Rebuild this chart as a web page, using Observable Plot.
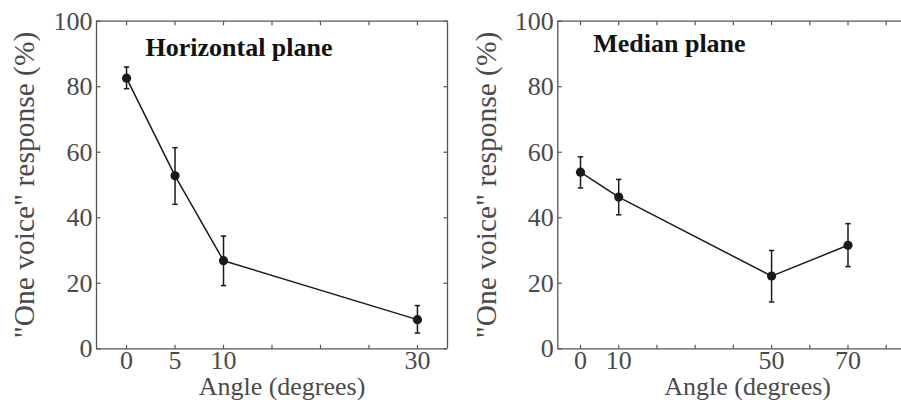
<!DOCTYPE html>
<html>
<head>
<meta charset="utf-8">
<script src="https://cdn.jsdelivr.net/npm/d3@7"></script>
<script src="https://cdn.jsdelivr.net/npm/@observablehq/plot@0.6"></script>
<style>
  body { margin: 0; background: #fff; }
  #wrap { display: flex; width: 901px; height: 400px; overflow: hidden; }
  svg { font-family: "Liberation Serif", "Times New Roman", serif; }
</style>
</head>
<body>
<div id="wrap"></div>
<script>
// ---- data ----
const hAngles = [0, 5, 10, 30];
const hValues = [82.6, 52.8, 26.9, 8.9];
const hLow    = [79.4, 44.1, 19.3, 4.8];
const hHigh   = [86.0, 61.4, 34.4, 13.2];

const mAngles = [0, 10, 50, 70];
const mValues = [53.9, 46.3, 22.2, 31.6];
const mLow    = [49.1, 40.9, 14.3, 25.1];
const mHigh   = [58.6, 51.7, 30.0, 38.2];

const yTicks = [0, 20, 40, 60, 80, 100];
const hXTicks = [0, 5, 10, 15, 20, 25, 30];
const hXLabels = [0, 5, 10, 30];
const mXTicks = [0, 10, 20, 30, 40, 50, 60, 70, 80];
const mXLabels = [0, 10, 50, 70];

const yLabel = '"One voice" response (%)';
const xLabel = "Angle (degrees)";

// ---- styles ----
const grey = "#4a4a4a";
const frameColor = "#555";
const ink = "#1a1a1a";
const T = 4; // inward tick length

const sym = (fn) => ({draw(ctx) { fn(ctx); }});
const tickUp = sym(c => { c.moveTo(0, 0); c.lineTo(0, -T); });
const tickDown = sym(c => { c.moveTo(0, 0); c.lineTo(0, T); });
const tickRight = sym(c => { c.moveTo(0, 0); c.lineTo(T, 0); });
const tickLeft = sym(c => { c.moveTo(0, 0); c.lineTo(-T, 0); });
const cap = sym(c => { c.moveTo(-2.7, 0); c.lineTo(2.7, 0); });

function panel({angles, values, low, high, xTicks, xLabels, domain, width, marginLeft, marginRight, title, titleDx, titleDy, yLabelDx, xLabelDx, rightBorder}) {
  const data = angles.map((a, i) => ({a, v: values[i], lo: low[i], hi: high[i]}));
  const tickStyle = {stroke: frameColor, fill: "none", strokeWidth: 1.2, r: 3};
  const marks = [
    Plot.ruleY([0, 100], {stroke: frameColor, strokeWidth: 1.3}),
    Plot.ruleX([domain[0]], {stroke: frameColor, strokeWidth: 1.3}),
    rightBorder ? Plot.ruleX([domain[1]], {stroke: frameColor, strokeWidth: 1.3}) : null,
    Plot.dot(xTicks, {x: d => d, frameAnchor: "bottom", symbol: tickUp, ...tickStyle}),
    Plot.dot(xTicks, {x: d => d, frameAnchor: "top", symbol: tickDown, ...tickStyle}),
    Plot.dot(yTicks, {y: d => d, frameAnchor: "left", symbol: tickRight, ...tickStyle}),
    rightBorder ? Plot.dot(yTicks, {y: d => d, frameAnchor: "right", symbol: tickLeft, ...tickStyle}) : null,
    Plot.axisY(yTicks, {anchor: "left", tickSize: 0, tickPadding: 4, fontSize: 26, fill: grey, label: null}),
    Plot.axisX(xLabels, {anchor: "bottom", tickSize: 0, tickPadding: 2, fontSize: 26, fill: grey, label: null}),
    Plot.ruleX(data, {x: "a", y1: "lo", y2: "hi", stroke: ink, strokeWidth: 1.5}),
    Plot.dot(data, {x: "a", y: "lo", symbol: cap, stroke: ink, fill: "none", strokeWidth: 1.5}),
    Plot.dot(data, {x: "a", y: "hi", symbol: cap, stroke: ink, fill: "none", strokeWidth: 1.5}),
    Plot.line(data, {x: "a", y: "v", stroke: ink, strokeWidth: 1.5}),
    Plot.dot(data, {x: "a", y: "v", r: 4.6, fill: ink, stroke: "none"}),
    Plot.text([title], {frameAnchor: "top-left", text: d => d, dx: titleDx, dy: titleDy, lineAnchor: "bottom", textAnchor: "start", fontSize: 26, fontWeight: "bold", fill: "#111"}),
    Plot.text([yLabel], {frameAnchor: "left", text: d => d, rotate: -90, dx: yLabelDx, lineAnchor: "bottom", textAnchor: "middle", fontSize: 29.5, fill: grey}),
    Plot.text([xLabel], {frameAnchor: "bottom", text: d => d, dx: xLabelDx, dy: 46.5, lineAnchor: "bottom", textAnchor: "middle", fontSize: 26, fill: grey})
  ].filter(Boolean);
  return Plot.plot({
    width, height: 400,
    marginLeft, marginRight, marginTop: 20.7, marginBottom: 51.7,
    style: {fontFamily: '"Liberation Serif", "Times New Roman", serif', background: "white", overflow: "visible"},
    x: {domain, axis: null},
    y: {domain: [0, 100], axis: null},
    marks
  });
}

const left = panel({
  angles: hAngles, values: hValues, low: hLow, high: hHigh,
  xTicks: hXTicks, xLabels: hXLabels, domain: [-3.1, 33.1],
  width: 450, marginLeft: 96, marginRight: 3,
  title: "Horizontal plane", titleDx: 49, titleDy: 34.3,
  yLabelDx: -63, xLabelDx: 10, rightBorder: true
});
const right = panel({
  angles: mAngles, values: mValues, low: mLow, high: mHigh,
  xTicks: mXTicks, xLabels: mXLabels, domain: [-5.94, 84],
  width: 451, marginLeft: 107.3, marginRight: 0,
  title: "Median plane", titleDx: 35.4, titleDy: 31,
  yLabelDx: -62.3, xLabelDx: 18, rightBorder: false
});
document.getElementById("wrap").append(left, right);
</script>
</body>
</html>
